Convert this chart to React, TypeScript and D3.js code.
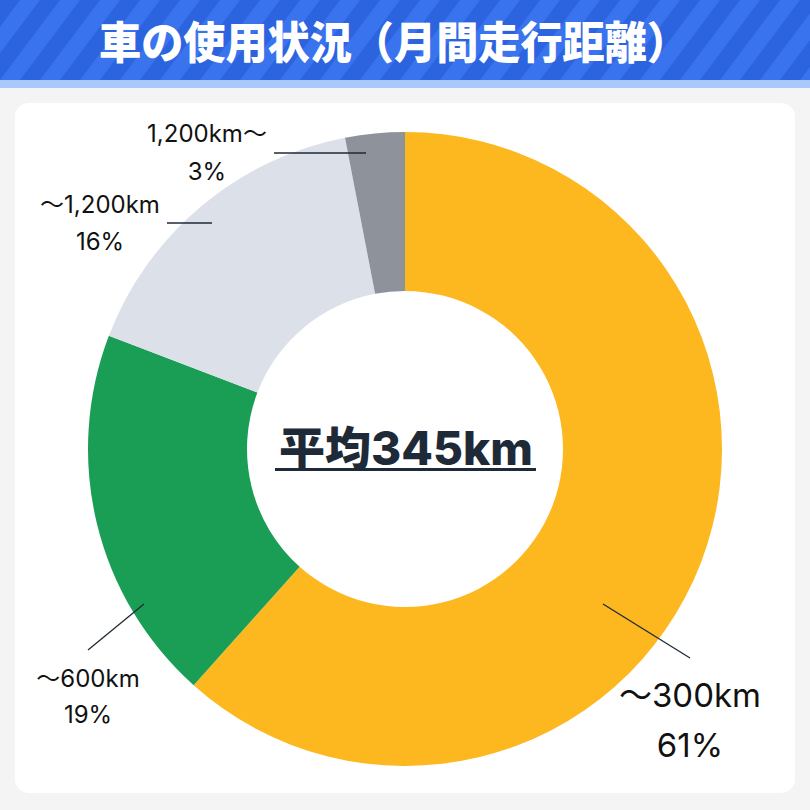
import React from "react";
import * as d3 from "d3";

const categories = ["〜300km", "〜600km", "〜1,200km", "1,200km〜"];
const values = [61, 19, 16, 3];
const percentLabels = ["61%", "19%", "16%", "3%"];
const colors = ["#FDB71F", "#1A9E55", "#DCE0E8", "#8E939B"];
const title = "車の使用状況（月間走行距離）";
const centerText = ["平均", "345km"];

// label layout (positions only)
const labelLayout = [
  { x: 690, y1: 707, y2: 757, size: 33, line: [[603, 604], [690, 658]] },
  { x: 88, y1: 687, y2: 723, size: 24, line: [[88, 650], [144, 604]] },
  { x: 100, y1: 213, y2: 250, size: 24, line: [[167, 223], [212, 223]] },
  { x: 207, y1: 142, y2: 180, size: 24, line: [[274, 153], [366, 153]] },
];

const W = 810;
const H = 810;
const cx = 405;
const cy = 449;
const outerR = 317;
const innerR = 158;

export default function App() {
  const pie = d3.pie<number>().sort(null).value((d) => d);
  const arcs = pie(values);
  const arc = d3.arc<d3.PieArcDatum<number>>().innerRadius(innerR).outerRadius(outerR);
  const cjk = "'Noto Sans CJK JP', sans-serif";
  const latin = "Inter, 'Noto Sans CJK JP', sans-serif";

  const stripes: number[] = d3.range(-200, 900, 40);

  return (
    <svg width={W} height={H} style={{ display: "block", position: "absolute", left: 0, top: 0 }}>
      <defs>
        <clipPath id="hdr">
          <rect x={0} y={0} width={W} height={80} />
        </clipPath>
      </defs>
      <rect x={0} y={0} width={W} height={H} fill="#F4F4F4" />
      <g clipPath="url(#hdr)">
        <rect x={0} y={0} width={W} height={80} fill="#2C63DF" />
        {stripes.map((s) => (
          <polygon
            key={s}
            points={`${s},80 ${s + 20},80 ${s + 80},0 ${s + 60},0`}
            fill="#3A73EE"
          />
        ))}
      </g>
      <rect x={0} y={80} width={W} height={8} fill="#A9C8FB" />
      <text
        x={394}
        y={59}
        textAnchor="middle"
        fill="#FFFFFF"
        fontFamily={cjk}
        fontWeight={900}
        fontSize={44}
        textLength={590}
        lengthAdjust="spacingAndGlyphs"
      >
        {title}
      </text>
      <rect x={15} y={103} width={780} height={690} rx={14} fill="#FFFFFF" />
      <g transform={`translate(${cx},${cy})`}>
        {arcs.map((a, i) => (
          <path key={i} d={arc(a) || ""} fill={colors[i]} />
        ))}
      </g>
      {labelLayout.map((l, i) => (
        <g key={i}>
          <line
            x1={l.line[0][0]}
            y1={l.line[0][1]}
            x2={l.line[1][0]}
            y2={l.line[1][1]}
            stroke="#1E2A38"
            strokeWidth={1.3}
          />
          <text x={l.x} y={l.y1} textAnchor="middle" fontFamily={latin} fontSize={l.size} fill="#111">
            {categories[i]}
          </text>
          <text x={l.x} y={l.y2} textAnchor="middle" fontFamily={latin} fontSize={l.size} fill="#111">
            {percentLabels[i]}
          </text>
        </g>
      ))}
      <text
        x={cx + 1}
        y={465}
        textAnchor="middle"
        fill="#1E2A38"
        fontWeight={800}
        fontSize={46}
      >
        <tspan fontFamily={cjk} fontWeight={900}>{centerText[0]}</tspan>
        <tspan fontFamily={latin}>{centerText[1]}</tspan>
      </text>
      <rect x={275} y={468} width={261} height={3} fill="#1E2A38" />
    </svg>
  );
}
